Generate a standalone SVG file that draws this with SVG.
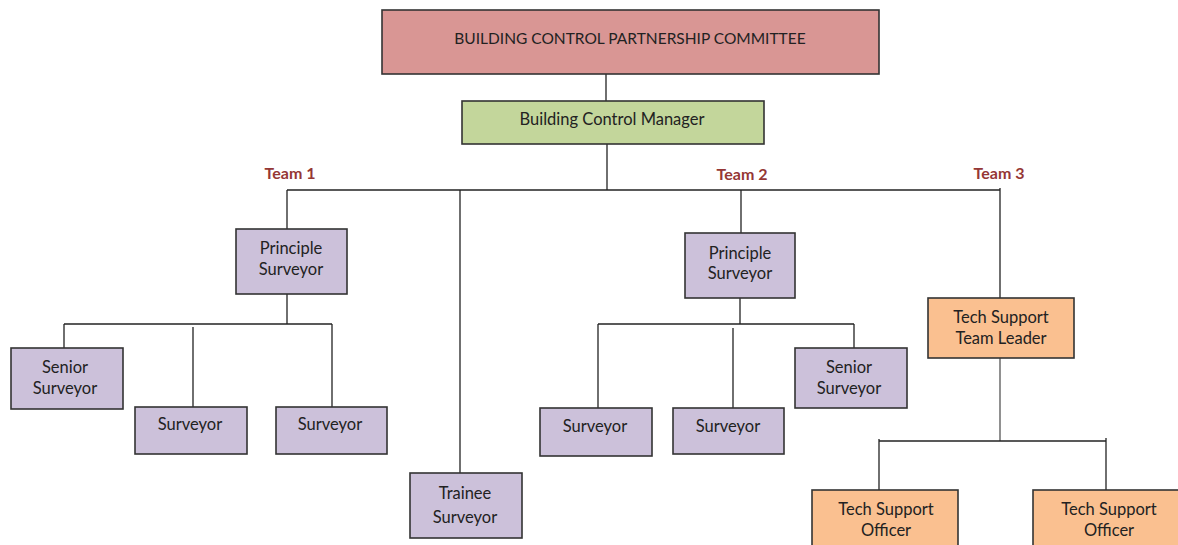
<svg xmlns="http://www.w3.org/2000/svg" width="1178" height="545" viewBox="0 0 1178 545">
<style>
.box{stroke:#333;stroke-width:1.6}
.red{fill:#d99694}
.green{fill:#c3d69b}
.purple{fill:#ccc1da}
.orange{fill:#fac090}
text{font-family:Lato,"Open Sans","Liberation Sans",sans-serif;font-size:16.5px;fill:#222;text-anchor:middle;dominant-baseline:central}
.team{fill:#953735;font-weight:bold;font-size:16px}
.conn line{stroke:#222;stroke-width:1.3}
</style>
<rect width="1178" height="545" fill="#fff"/>
<g class="conn">
<line x1="606" y1="74" x2="606" y2="101"/>
<line x1="607" y1="144" x2="607" y2="190"/>
<line x1="287" y1="190" x2="1000" y2="190"/>
<line x1="287" y1="190" x2="287" y2="229"/>
<line x1="460" y1="190" x2="460" y2="473"/>
<line x1="287" y1="294" x2="287" y2="324"/>
<line x1="64" y1="324" x2="332" y2="324"/>
<line x1="64" y1="324" x2="64" y2="348"/>
<line x1="193" y1="327" x2="193" y2="408"/>
<line x1="332" y1="324" x2="332" y2="408"/>
<line x1="741" y1="190" x2="741" y2="233"/>
<line x1="740" y1="298" x2="740" y2="324"/>
<line x1="598" y1="324" x2="854" y2="324"/>
<line x1="598" y1="324" x2="598" y2="408"/>
<line x1="733" y1="328" x2="733" y2="409"/>
<line x1="854" y1="324" x2="854" y2="348"/>
<line x1="1000" y1="188" x2="1000" y2="298"/>
<line x1="1000" y1="358" x2="1000" y2="441" style="stroke:#555"/>
<line x1="879" y1="441" x2="1106" y2="441"/>
<line x1="879" y1="439" x2="879" y2="491"/>
<line x1="1106" y1="438" x2="1106" y2="490"/>
</g>
<g id="committee"><rect class="box red" x="382" y="10" width="497" height="64"/><text x="630" y="38" style="font-size:15.5px">BUILDING CONTROL PARTNERSHIP COMMITTEE</text></g>
<g id="manager"><rect class="box green" x="462" y="101" width="302" height="43"/><text x="612" y="119">Building Control Manager</text></g>
<g id="team1"><text class="team" x="290" y="172">Team 1</text></g>
<g id="team2"><text class="team" x="742" y="173">Team 2</text></g>
<g id="team3"><text class="team" x="999" y="172">Team 3</text></g>
<g id="principal1"><rect class="box purple" x="236" y="229" width="111" height="65"/><text x="291" y="248">Principle</text><text x="291" y="269">Surveyor</text></g>
<g id="senior1"><rect class="box purple" x="11" y="348" width="112" height="61"/><text x="65" y="367">Senior</text><text x="65" y="388">Surveyor</text></g>
<g id="surveyor1"><rect class="box purple" x="135" y="407" width="112" height="47"/><text x="190" y="424">Surveyor</text></g>
<g id="surveyor2"><rect class="box purple" x="276" y="407" width="111" height="47"/><text x="330" y="424">Surveyor</text></g>
<g id="trainee"><rect class="box purple" x="410" y="473" width="112" height="65"/><text x="465" y="493">Trainee</text><text x="465" y="517">Surveyor</text></g>
<g id="principal2"><rect class="box purple" x="685" y="233" width="110" height="65"/><text x="740" y="253">Principle</text><text x="740" y="273">Surveyor</text></g>
<g id="surveyor3"><rect class="box purple" x="540" y="408" width="112" height="48"/><text x="595" y="426">Surveyor</text></g>
<g id="surveyor4"><rect class="box purple" x="673" y="408" width="111" height="46"/><text x="728" y="426">Surveyor</text></g>
<g id="senior2"><rect class="box purple" x="795" y="348" width="112" height="60"/><text x="849" y="367">Senior</text><text x="849" y="388">Surveyor</text></g>
<g id="techlead"><rect class="box orange" x="928" y="298" width="146" height="60"/><text x="1001" y="317">Tech Support</text><text x="1001" y="338">Team Leader</text></g>
<g id="officer1"><rect class="box orange" x="812" y="490" width="146" height="70"/><text x="886" y="509">Tech Support</text><text x="886" y="530">Officer</text></g>
<g id="officer2"><rect class="box orange" x="1033" y="490" width="160" height="70"/><text x="1109" y="509">Tech Support</text><text x="1109" y="530">Officer</text></g>
</svg>
